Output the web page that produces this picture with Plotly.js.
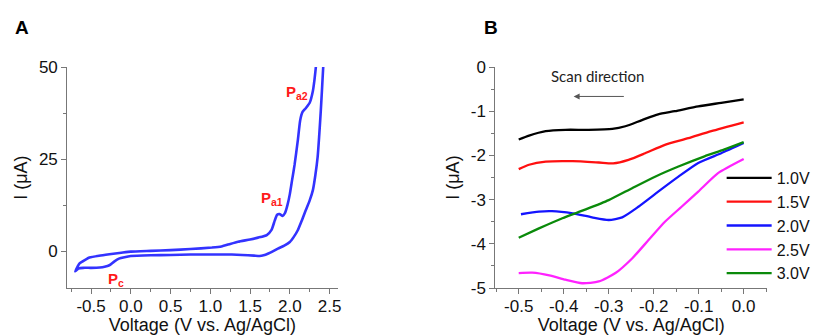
<!DOCTYPE html>
<html>
<head>
<meta charset="utf-8">
<script src="https://cdn.plot.ly/plotly-3.0.1.min.js"></script>
<style>html,body{margin:0;padding:0;background:#fff;}#chart{width:816px;height:335px;}</style>
</head>
<body>
<div id="chart"></div>
<script>
// ---- Panel A: cyclic voltammogram (one closed loop) ----
var cvVoltage = [
  -0.70, -0.67, -0.645, -0.58, -0.52, -0.40, -0.27, -0.12, 0.0, 0.25, 0.5, 0.75, 1.02, 1.14, 1.25, 1.35, 1.50, 1.60, 1.71, 1.77, 1.81, 1.84, 1.87, 1.91, 1.94, 1.97, 2.00, 2.03, 2.06, 2.10, 2.13, 2.16, 2.20, 2.25, 2.29, 2.31, 2.33, 2.35,
  2.44, 2.42, 2.405, 2.39, 2.37, 2.35, 2.32, 2.29, 2.25, 2.20, 2.15, 2.10, 2.05, 2.00, 1.93, 1.85, 1.78, 1.73, 1.67, 1.62, 1.55, 1.40, 1.27, 1.0, 0.75, 0.5, 0.25, 0.0, -0.08, -0.15, -0.21, -0.27, -0.33, -0.39, -0.50, -0.60, -0.66, -0.70
];
var cvCurrent = [
  -5.4, -4.2, -3.3, -2.4, -1.7, -1.2, -0.8, -0.4, -0.1, 0.1, 0.3, 0.6, 1.0, 1.3, 2.0, 2.6, 3.2, 3.7, 4.4, 5.8, 8.3, 9.9, 10.1, 9.6, 10.4, 12.5, 15.5, 19.5, 23.5, 30.0, 35.5, 37.8, 38.8, 40.3, 43.5, 46.5, 50.5, 56,
  56, 50, 44, 38.3, 31.5, 25.6, 20.5, 16.6, 13.8, 11.1, 8.3, 5.7, 3.9, 2.5, 1.5, 0.7, -0.1, -0.6, -1.1, -1.3, -1.2, -1.0, -0.9, -0.9, -0.9, -1.0, -1.1, -1.3, -1.6, -2.0, -2.8, -3.8, -4.2, -4.4, -4.5, -4.5, -4.7, -5.4
];
var peakLabels = ['<b>P<sub>c</sub></b>', '<b>P<sub>a1</sub></b>', '<b>P<sub>a2</sub></b>'];
var peakVoltage = [-0.19, 1.77, 2.09];
var peakCurrent = [-7.8, 14.3, 43.0];

var aXTickVals = [-0.5, 0.0, 0.5, 1.0, 1.5, 2.0, 2.5];
var aXTickText = ['-0.5', '0.0', '0.5', '1.0', '1.5', '2.0', '2.5'];
var aYTickVals = [0, 25, 50];
var aYTickText = ['0', '25', '50'];

// ---- Panel B: cathodic scans after different anodic potentials ----
var seriesNames = ['1.0V', '1.5V', '2.0V', '2.5V', '3.0V'];
var v10 = [-0.5, -0.477, -0.44, -0.396, -0.345, -0.292, -0.263, -0.226, -0.19, -0.153, -0.101, -0.05, 0.0];
var i10 = [-1.64, -1.55, -1.45, -1.42, -1.42, -1.40, -1.34, -1.20, -1.07, -1.00, -0.89, -0.81, -0.73];
var v15 = [-0.5, -0.477, -0.44, -0.38, -0.322, -0.29, -0.256, -0.219, -0.175, -0.123, -0.072, 0.0];
var i15 = [-2.31, -2.21, -2.14, -2.13, -2.16, -2.18, -2.10, -1.95, -1.76, -1.61, -1.45, -1.25];
var v20 = [-0.495, -0.455, -0.426, -0.38, -0.337, -0.30, -0.27, -0.234, -0.19, -0.145, -0.101, -0.05, 0.0];
var i20 = [-3.33, -3.27, -3.26, -3.31, -3.40, -3.46, -3.40, -3.16, -2.82, -2.48, -2.17, -1.95, -1.72];
var v25 = [-0.5, -0.47, -0.432, -0.396, -0.359, -0.322, -0.285, -0.248, -0.212, -0.175, -0.138, -0.101, -0.057, 0.0];
var i25 = [-4.66, -4.65, -4.71, -4.81, -4.89, -4.85, -4.66, -4.33, -3.92, -3.50, -3.16, -2.82, -2.40, -2.08];
var v30 = [-0.5, -0.455, -0.403, -0.351, -0.30, -0.248, -0.197, -0.145, -0.087, -0.044, 0.0];
var i30 = [-3.86, -3.65, -3.42, -3.22, -3.01, -2.74, -2.48, -2.25, -2.02, -1.87, -1.70];
var seriesColors = ['#000000', '#ff1010', '#1414ff', '#ff22ff', '#0a8a0a'];

var bXTickVals = [-0.5, -0.4, -0.3, -0.2, -0.1, 0.0];
var bXTickText = ['-0.5', '-0.4', '-0.3', '-0.2', '-0.1', '0.0'];
var bYTickVals = [0, -1, -2, -3, -4, -5];
var bYTickText = ['0', '-1', '-2', '-3', '-4', '-5'];

var FONT = 'Liberation Sans, Arial, sans-serif';
var bV = [v10, v15, v20, v25, v30];
var bI = [i10, i15, i20, i25, i30];

var traces = [{
  x: cvVoltage, y: cvCurrent, xaxis: 'x', yaxis: 'y', mode: 'lines',
  line: {color: '#3333ff', width: 2.6, shape: 'spline', smoothing: 0.5},
  showlegend: false, hoverinfo: 'skip'
}];
for (var k = 0; k < seriesNames.length; k++) {
  traces.push({
    x: bV[k], y: bI[k], xaxis: 'x2', yaxis: 'y2', mode: 'lines', name: seriesNames[k],
    line: {color: seriesColors[k], width: 2.3, shape: 'spline', smoothing: 0.6}
  });
}

function axisBase() {
  return {
    showline: true, linecolor: '#777', linewidth: 1, showgrid: false, zeroline: false,
    ticks: 'outside', ticklen: 5, tickcolor: '#777', tickwidth: 1,
    tickfont: {family: FONT, size: 17, color: '#111'}, automargin: false, fixedrange: true
  };
}

var xa = axisBase();
Object.assign(xa, {domain: [0.083, 0.4167], anchor: 'y', range: [-0.8, 2.6],
  tickmode: 'array', tickvals: aXTickVals, ticktext: aXTickText, ticklabelstandoff: -3,
  minor: {dtick: 0.25, tick0: 0, ticks: 'outside', ticklen: 3, tickcolor: '#777'},
  title: {text: 'Voltage (V vs. Ag/AgCl)', font: {family: FONT, size: 18, color: '#111'}, standoff: 5}});
var ya = axisBase();
Object.assign(ya, {domain: [0.14, 0.80], anchor: 'x', range: [-10, 50],
  tickmode: 'array', tickvals: aYTickVals, ticktext: aYTickText,
  minor: {dtick: 12.5, tick0: 0, ticks: 'outside', ticklen: 3, tickcolor: '#777'},
  title: {text: 'I (μA)', font: {family: FONT, size: 18, color: '#111'}, standoff: 6}});
var xb = axisBase();
Object.assign(xb, {domain: [0.6115, 0.947], anchor: 'y2', range: [-0.552, 0.052],
  tickmode: 'array', tickvals: bXTickVals, ticktext: bXTickText, ticklabelstandoff: -3,
  minor: {dtick: 0.05, tick0: 0, ticks: 'outside', ticklen: 3, tickcolor: '#777'},
  title: {text: 'Voltage (V vs. Ag/AgCl)', font: {family: FONT, size: 18, color: '#111'}, standoff: 5}});
var yb = axisBase();
Object.assign(yb, {domain: [0.14, 0.80], anchor: 'x2', range: [-5, 0],
  tickmode: 'array', tickvals: bYTickVals, ticktext: bYTickText,
  minor: {dtick: 0.5, tick0: 0, ticks: 'outside', ticklen: 3, tickcolor: '#777'},
  title: {text: 'I (μA)', font: {family: FONT, size: 18, color: '#111'}, standoff: 6}});

var annotations = [];
for (var p = 0; p < peakLabels.length; p++) {
  annotations.push({x: peakVoltage[p], y: peakCurrent[p], xref: 'x', yref: 'y', text: peakLabels[p],
    xanchor: 'center', yanchor: 'middle',
    showarrow: false, font: {family: FONT, size: 15, color: '#ff1a1a'}});
}
annotations.push({x: 22 / 816, y: 1 - 27 / 335, xref: 'paper', yref: 'paper', text: '<b>A</b>',
  xanchor: 'center', yanchor: 'middle',
  showarrow: false, font: {family: FONT, size: 19, color: '#000'}});
annotations.push({x: 495 / 816, y: 1 - 27 / 335, xref: 'paper', yref: 'paper', text: '<b>B</b>',
  xanchor: 'center', yanchor: 'middle',
  showarrow: false, font: {family: FONT, size: 19, color: '#000'}});
annotations.push({x: -0.325, y: -0.21, xref: 'x2', yref: 'y2', text: 'Scan direction',
  xanchor: 'center', yanchor: 'middle',
  showarrow: false, font: {family: 'Lato, Open Sans, sans-serif', size: 15, color: '#222'}});
annotations.push({x: -0.378, y: -0.666, xref: 'x2', yref: 'y2', ax: -0.263, ay: -0.666,
  axref: 'x2', ayref: 'y2', text: '', showarrow: true, arrowhead: 2, arrowsize: 1.2,
  arrowwidth: 1, arrowcolor: '#555'});

var layout = {
  width: 816, height: 335, margin: {l: 0, r: 0, t: 0, b: 0},
  paper_bgcolor: '#fff', plot_bgcolor: '#fff',
  xaxis: xa, yaxis: ya, xaxis2: xb, yaxis2: yb,
  showlegend: true,
  legend: {x: 727 / 816, y: 1 - 161 / 335, xanchor: 'left', yanchor: 'top',
    bgcolor: 'rgba(0,0,0,0)', font: {family: FONT, size: 16, color: '#111'},
    itemwidth: 45, tracegroupgap: 0},
  annotations: annotations
};

Plotly.newPlot('chart', traces, layout, {staticPlot: true, displayModeBar: false});
</script>
</body>
</html>
